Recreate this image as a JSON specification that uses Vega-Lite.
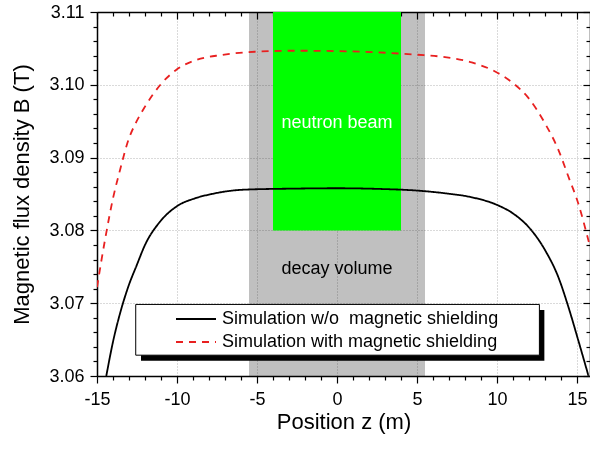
{
  "$schema": "https://vega.github.io/schema/vega-lite/v6.json",
  "width": 493,
  "height": 364,
  "autosize": {"type": "none"},
  "padding": {"left": 97, "top": 12, "right": 0, "bottom": 75},
  "background": "white",
  "config": {
    "font": "Liberation Sans",
    "view": {"stroke": null},
    "axis": {
      "domainColor": "black", "domainWidth": 1.5, "tickColor": "black", "tickWidth": 1.2,
      "labelColor": "black", "titleColor": "black", "labelFontSize": 18, "titleFontSize": 22,
      "titleFontWeight": "normal", "labelFont": "Liberation Sans", "titleFont": "Liberation Sans",
      "gridColor": "#b4b4b4", "gridDash": [1, 2], "gridWidth": 1,
      "labelOverlap": false, "labelFlush": false, "zindex": 0
    },
    "legend": {
      "labelFont": "Liberation Sans", "labelFontSize": 18, "labelColor": "black", "labelLimit": 0
    }
  },
  "datasets": {
    "regions": [
      {"region": "decay volume", "z1": -5.5, "z2": 5.5, "B1": 3.06, "B2": 3.11},
      {"region": "neutron beam", "z1": -4.0, "z2": 4.0, "B1": 3.08, "B2": 3.11}
    ],
    "labels": [
      {"label": "neutron beam", "z": 0, "B": 3.0948},
      {"label": "decay volume", "z": 0, "B": 3.0747}
    ],
    "curves": [
      {"series": "Simulation w/o\u00a0 magnetic shielding", "z": -14.42, "B": 3.0600},
      {"series": "Simulation w/o\u00a0 magnetic shielding", "z": -13.98, "B": 3.0649},
      {"series": "Simulation w/o\u00a0 magnetic shielding", "z": -13.56, "B": 3.0686},
      {"series": "Simulation w/o\u00a0 magnetic shielding", "z": -13.04, "B": 3.0723},
      {"series": "Simulation w/o\u00a0 magnetic shielding", "z": -12.52, "B": 3.0752},
      {"series": "Simulation w/o\u00a0 magnetic shielding", "z": -12.0, "B": 3.0780},
      {"series": "Simulation w/o\u00a0 magnetic shielding", "z": -11.06, "B": 3.0812},
      {"series": "Simulation w/o\u00a0 magnetic shielding", "z": -10.02, "B": 3.0833},
      {"series": "Simulation w/o\u00a0 magnetic shielding", "z": -8.88, "B": 3.0844},
      {"series": "Simulation w/o\u00a0 magnetic shielding", "z": -7.83, "B": 3.0850},
      {"series": "Simulation w/o\u00a0 magnetic shielding", "z": -5.75, "B": 3.0856},
      {"series": "Simulation w/o\u00a0 magnetic shielding", "z": -2.63, "B": 3.08574},
      {"series": "Simulation w/o\u00a0 magnetic shielding", "z": 0.0, "B": 3.08579},
      {"series": "Simulation w/o\u00a0 magnetic shielding", "z": 2.58, "B": 3.0857},
      {"series": "Simulation w/o\u00a0 magnetic shielding", "z": 5.0, "B": 3.08547},
      {"series": "Simulation w/o\u00a0 magnetic shielding", "z": 6.75, "B": 3.0851},
      {"series": "Simulation w/o\u00a0 magnetic shielding", "z": 8.42, "B": 3.08455},
      {"series": "Simulation w/o\u00a0 magnetic shielding", "z": 10.0, "B": 3.0835},
      {"series": "Simulation w/o\u00a0 magnetic shielding", "z": 11.02, "B": 3.0823},
      {"series": "Simulation w/o\u00a0 magnetic shielding", "z": 11.96, "B": 3.0805},
      {"series": "Simulation w/o\u00a0 magnetic shielding", "z": 13.0, "B": 3.0773},
      {"series": "Simulation w/o\u00a0 magnetic shielding", "z": 13.83, "B": 3.0736},
      {"series": "Simulation w/o\u00a0 magnetic shielding", "z": 14.46, "B": 3.0695},
      {"series": "Simulation w/o\u00a0 magnetic shielding", "z": 15.08, "B": 3.0649},
      {"series": "Simulation w/o\u00a0 magnetic shielding", "z": 15.72, "B": 3.0600},
      {"series": "Simulation with magnetic shielding", "z": -15.0, "B": 3.0722},
      {"series": "Simulation with magnetic shielding", "z": -14.5, "B": 3.0787},
      {"series": "Simulation with magnetic shielding", "z": -13.98, "B": 3.0846},
      {"series": "Simulation with magnetic shielding", "z": -13.56, "B": 3.0883},
      {"series": "Simulation with magnetic shielding", "z": -13.04, "B": 3.0924},
      {"series": "Simulation with magnetic shielding", "z": -12.52, "B": 3.0950},
      {"series": "Simulation with magnetic shielding", "z": -12.0, "B": 3.0970},
      {"series": "Simulation with magnetic shielding", "z": -10.96, "B": 3.1002},
      {"series": "Simulation with magnetic shielding", "z": -10.02, "B": 3.1021},
      {"series": "Simulation with magnetic shielding", "z": -8.88, "B": 3.10335},
      {"series": "Simulation with magnetic shielding", "z": -7.21, "B": 3.1041},
      {"series": "Simulation with magnetic shielding", "z": -5.13, "B": 3.10454},
      {"series": "Simulation with magnetic shielding", "z": -2.63, "B": 3.10468},
      {"series": "Simulation with magnetic shielding", "z": 0.0, "B": 3.10463},
      {"series": "Simulation with magnetic shielding", "z": 2.58, "B": 3.10445},
      {"series": "Simulation with magnetic shielding", "z": 5.0, "B": 3.10413},
      {"series": "Simulation with magnetic shielding", "z": 6.75, "B": 3.1038},
      {"series": "Simulation with magnetic shielding", "z": 8.42, "B": 3.10307},
      {"series": "Simulation with magnetic shielding", "z": 9.88, "B": 3.10183},
      {"series": "Simulation with magnetic shielding", "z": 11.02, "B": 3.1002},
      {"series": "Simulation with magnetic shielding", "z": 11.96, "B": 3.0982},
      {"series": "Simulation with magnetic shielding", "z": 13.0, "B": 3.0947},
      {"series": "Simulation with magnetic shielding", "z": 13.83, "B": 3.0911},
      {"series": "Simulation with magnetic shielding", "z": 14.46, "B": 3.0874},
      {"series": "Simulation with magnetic shielding", "z": 15.08, "B": 3.0837},
      {"series": "Simulation with magnetic shielding", "z": 15.6, "B": 3.0796},
      {"series": "Simulation with magnetic shielding", "z": 15.81, "B": 3.0778}
    ]
  },
  "resolve": {"axis": {"x": "independent", "y": "independent"}},
  "layer": [
    {
      "data": {"name": "regions"},
      "transform": [{"filter": "datum.region === 'decay volume'"}],
      "mark": {"type": "rect", "fill": "#c0c0c0", "blend": "multiply"},
      "encoding": {
        "x": {"field": "z1", "type": "quantitative", "scale": {"domain": [-15, 15.8125], "nice": false, "zero": false},
          "axis": {"orient": "top", "title": null, "labels": false, "grid": false,
            "values": [-15,-14,-13,-12,-11,-10,-9,-8,-7,-6,-5,-4,-3,-2,-1,0,1,2,3,4,5,6,7,8,9,10,11,12,13,14,15],
            "tickSize": {"condition": {"test": "datum.value % 5 === 0", "value": -7}, "value": -4}}},
        "x2": {"field": "z2"},
        "y": {"field": "B1", "type": "quantitative", "scale": {"domain": [3.06, 3.11], "nice": false, "zero": false},
          "axis": {"orient": "right", "title": null, "labels": false, "grid": false,
            "values": [3.06,3.062,3.064,3.066,3.068,3.07,3.072,3.074,3.076,3.078,3.08,3.082,3.084,3.086,3.088,3.09,3.092,3.094,3.096,3.098,3.1,3.102,3.104,3.106,3.108,3.11],
            "tickSize": {"condition": {"test": "abs(datum.value*100 - round(datum.value*100)) < 0.01", "value": -7}, "value": -4}}},
        "y2": {"field": "B2"}
      }
    },
    {
      "data": {"name": "regions"},
      "transform": [{"filter": "datum.region === 'neutron beam'"}],
      "mark": {"type": "rect", "fill": "#00ff00"},
      "encoding": {
        "x": {"field": "z1", "type": "quantitative", "scale": {"domain": [-15, 15.8125], "nice": false, "zero": false}, "axis": null},
        "x2": {"field": "z2"},
        "y": {"field": "B1", "type": "quantitative", "scale": {"domain": [3.06, 3.11], "nice": false, "zero": false}, "axis": null},
        "y2": {"field": "B2"}
      }
    },
    {
      "data": {"name": "labels"},
      "mark": {"type": "text", "fontSize": 18, "font": "Liberation Sans", "align": "center", "baseline": "middle"},
      "encoding": {
        "x": {"field": "z", "type": "quantitative", "scale": {"domain": [-15, 15.8125], "nice": false, "zero": false}, "axis": null},
        "y": {"field": "B", "type": "quantitative", "scale": {"domain": [3.06, 3.11], "nice": false, "zero": false}, "axis": null},
        "text": {"field": "label"},
        "fill": {"field": "label", "type": "nominal", "scale": {"domain": ["neutron beam", "decay volume"], "range": ["#ffffff", "#000000"]}, "legend": null}
      }
    },
    {
      "data": {"values": [{}]},
      "mark": {"type": "rect", "fill": "black"},
      "encoding": {
        "x": {"datum": -12.25, "type": "quantitative", "scale": {"domain": [-15, 15.8125], "nice": false, "zero": false}, "axis": null},
        "x2": {"datum": 12.96},
        "y": {"datum": 3.06208, "type": "quantitative", "scale": {"domain": [3.06, 3.11], "nice": false, "zero": false}, "axis": null},
        "y2": {"datum": 3.06905}
      }
    },
    {
      "data": {"values": [{}]},
      "mark": {"type": "rect", "fill": "white", "stroke": "black", "strokeWidth": 1},
      "encoding": {
        "x": {"datum": -12.58, "type": "quantitative", "scale": {"domain": [-15, 15.8125], "nice": false, "zero": false}, "axis": null},
        "x2": {"datum": 12.65},
        "y": {"datum": 3.06286, "type": "quantitative", "scale": {"domain": [3.06, 3.11], "nice": false, "zero": false}, "axis": null},
        "y2": {"datum": 3.06983}
      }
    },
    {
      "data": {"name": "curves"},
      "mark": {"type": "line", "interpolate": "monotone", "strokeWidth": 1.8, "clip": true},
      "encoding": {
        "x": {"field": "z", "type": "quantitative", "scale": {"domain": [-15, 15.8125], "nice": false, "zero": false},
          "axis": {"orient": "bottom", "title": "Position z (m)", "grid": true,
            "values": [-15,-14,-13,-12,-11,-10,-9,-8,-7,-6,-5,-4,-3,-2,-1,0,1,2,3,4,5,6,7,8,9,10,11,12,13,14,15],
            "labelExpr": "datum.value % 5 === 0 ? '' + datum.value : ''",
            "tickSize": {"condition": {"test": "datum.value % 5 === 0", "value": 7}, "value": 4},
            "gridOpacity": {"condition": {"test": "datum.value % 5 === 0", "value": 1}, "value": 0},
            "labelPadding": 7, "titlePadding": 3}},
        "y": {"field": "B", "type": "quantitative", "scale": {"domain": [3.06, 3.11], "nice": false, "zero": false},
          "axis": {"orient": "left", "title": "Magnetic flux density B (T)", "grid": true,
            "values": [3.06,3.062,3.064,3.066,3.068,3.07,3.072,3.074,3.076,3.078,3.08,3.082,3.084,3.086,3.088,3.09,3.092,3.094,3.096,3.098,3.1,3.102,3.104,3.106,3.108,3.11],
            "labelExpr": "abs(datum.value*100 - round(datum.value*100)) < 0.01 ? format(datum.value, '.2f') : ''",
            "tickSize": {"condition": {"test": "abs(datum.value*100 - round(datum.value*100)) < 0.01", "value": 7}, "value": 4},
            "gridOpacity": {"condition": {"test": "abs(datum.value*100 - round(datum.value*100)) < 0.01", "value": 1}, "value": 0},
            "labelPadding": 6, "titlePadding": 15}},
        "color": {"field": "series", "type": "nominal",
          "scale": {"domain": ["Simulation w/o\u00a0 magnetic shielding", "Simulation with magnetic shielding"], "range": ["#000000", "#e82020"]},
          "legend": {"title": null, "orient": "none", "legendX": 78, "legendY": 286, "direction": "vertical",
            "values": ["Simulation w/o\u00a0 magnetic shielding"],
            "symbolType": "stroke", "symbolSize": 1600, "symbolStrokeWidth": 1.8, "labelOffset": 5, "padding": 0, "labelLimit": 0}},
        "strokeDash": {"field": "series", "type": "nominal",
          "scale": {"domain": ["Simulation with magnetic shielding", "Simulation w/o\u00a0 magnetic shielding"], "range": [[7, 6], [1, 0]]},
          "legend": {"title": null, "orient": "none", "legendX": 78, "legendY": 309, "direction": "vertical",
            "values": ["Simulation with magnetic shielding"],
            "symbolType": "stroke", "symbolSize": 1600, "symbolStrokeWidth": 1.8, "symbolStrokeColor": "#e82020",
            "labelOffset": 5, "padding": 0, "labelLimit": 0,
            "encode": {"symbols": {"update": {"stroke": {"value": "#e82020"}}}}}}
      }
    }
  ]
}
